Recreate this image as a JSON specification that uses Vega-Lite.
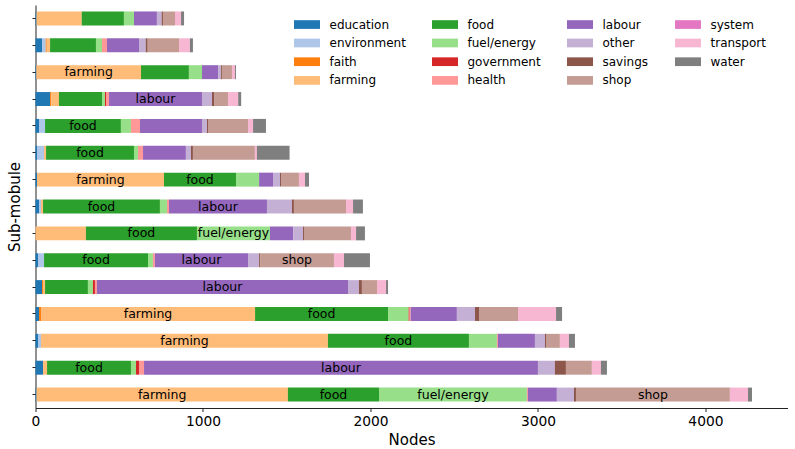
{
  "$schema": "https://vega.github.io/schema/vega-lite/v6.json",
  "autosize": {"type": "none"},
  "width": 752,
  "height": 403,
  "padding": {"left": 35.5, "top": 5, "right": 7.5, "bottom": 41},
  "background": "white",
  "config": {
    "view": {"stroke": null},
    "font": "DejaVu Sans",
    "axis": {
      "domainColor": "#222", "tickColor": "#222", "labelColor": "#000", "titleColor": "#000",
      "labelFont": "DejaVu Sans", "titleFont": "DejaVu Sans", "titleFontWeight": "normal",
      "labelFontSize": 13.8, "titleFontSize": 15, "tickSize": 3.5, "domainWidth": 1, "tickWidth": 1, "grid": false
    },
    "legend": {
      "labelFont": "DejaVu Sans", "labelFontSize": 12, "labelColor": "#000"
    }
  },
  "data": {"values": [
    {"row": "r01", "cat": "education", "value": 6},
    {"row": "r01", "cat": "farming", "value": 270},
    {"row": "r01", "cat": "food", "value": 252},
    {"row": "r01", "cat": "fuel/energy", "value": 60},
    {"row": "r01", "cat": "labour", "value": 137},
    {"row": "r01", "cat": "other", "value": 28},
    {"row": "r01", "cat": "savings", "value": 8},
    {"row": "r01", "cat": "shop", "value": 72},
    {"row": "r01", "cat": "transport", "value": 36},
    {"row": "r01", "cat": "water", "value": 18},

    {"row": "r02", "cat": "education", "value": 39},
    {"row": "r02", "cat": "environment", "value": 22},
    {"row": "r02", "cat": "faith", "value": 6},
    {"row": "r02", "cat": "farming", "value": 20},
    {"row": "r02", "cat": "food", "value": 274},
    {"row": "r02", "cat": "fuel/energy", "value": 36},
    {"row": "r02", "cat": "health", "value": 30},
    {"row": "r02", "cat": "labour", "value": 191},
    {"row": "r02", "cat": "other", "value": 40},
    {"row": "r02", "cat": "savings", "value": 12},
    {"row": "r02", "cat": "shop", "value": 187},
    {"row": "r02", "cat": "transport", "value": 65},
    {"row": "r02", "cat": "water", "value": 18},

    {"row": "r03", "cat": "education", "value": 5},
    {"row": "r03", "cat": "farming", "value": 625},
    {"row": "r03", "cat": "food", "value": 286},
    {"row": "r03", "cat": "fuel/energy", "value": 78},
    {"row": "r03", "cat": "labour", "value": 96},
    {"row": "r03", "cat": "other", "value": 17},
    {"row": "r03", "cat": "savings", "value": 6},
    {"row": "r03", "cat": "shop", "value": 60},
    {"row": "r03", "cat": "transport", "value": 18},
    {"row": "r03", "cat": "water", "value": 6},

    {"row": "r04", "cat": "education", "value": 87},
    {"row": "r04", "cat": "faith", "value": 8},
    {"row": "r04", "cat": "farming", "value": 45},
    {"row": "r04", "cat": "food", "value": 257},
    {"row": "r04", "cat": "fuel/energy", "value": 18},
    {"row": "r04", "cat": "government", "value": 6},
    {"row": "r04", "cat": "health", "value": 18},
    {"row": "r04", "cat": "labour", "value": 555},
    {"row": "r04", "cat": "other", "value": 60},
    {"row": "r04", "cat": "savings", "value": 12},
    {"row": "r04", "cat": "shop", "value": 84},
    {"row": "r04", "cat": "transport", "value": 60},
    {"row": "r04", "cat": "water", "value": 18},

    {"row": "r05", "cat": "education", "value": 21},
    {"row": "r05", "cat": "environment", "value": 36},
    {"row": "r05", "cat": "food", "value": 453},
    {"row": "r05", "cat": "fuel/energy", "value": 60},
    {"row": "r05", "cat": "health", "value": 54},
    {"row": "r05", "cat": "labour", "value": 370},
    {"row": "r05", "cat": "other", "value": 30},
    {"row": "r05", "cat": "savings", "value": 6},
    {"row": "r05", "cat": "shop", "value": 239},
    {"row": "r05", "cat": "transport", "value": 30},
    {"row": "r05", "cat": "water", "value": 77},

    {"row": "r06", "cat": "education", "value": 9},
    {"row": "r06", "cat": "environment", "value": 42},
    {"row": "r06", "cat": "farming", "value": 12},
    {"row": "r06", "cat": "food", "value": 525},
    {"row": "r06", "cat": "fuel/energy", "value": 24},
    {"row": "r06", "cat": "health", "value": 30},
    {"row": "r06", "cat": "labour", "value": 256},
    {"row": "r06", "cat": "other", "value": 30},
    {"row": "r06", "cat": "savings", "value": 12},
    {"row": "r06", "cat": "shop", "value": 370},
    {"row": "r06", "cat": "transport", "value": 12},
    {"row": "r06", "cat": "water", "value": 195},

    {"row": "r07", "cat": "education", "value": 9},
    {"row": "r07", "cat": "farming", "value": 758},
    {"row": "r07", "cat": "food", "value": 430},
    {"row": "r07", "cat": "fuel/energy", "value": 138},
    {"row": "r07", "cat": "labour", "value": 83},
    {"row": "r07", "cat": "other", "value": 42},
    {"row": "r07", "cat": "savings", "value": 6},
    {"row": "r07", "cat": "shop", "value": 107},
    {"row": "r07", "cat": "transport", "value": 36},
    {"row": "r07", "cat": "water", "value": 24},

    {"row": "r08", "cat": "education", "value": 21},
    {"row": "r08", "cat": "environment", "value": 12},
    {"row": "r08", "cat": "farming", "value": 12},
    {"row": "r08", "cat": "food", "value": 698},
    {"row": "r08", "cat": "fuel/energy", "value": 42},
    {"row": "r08", "cat": "health", "value": 12},
    {"row": "r08", "cat": "labour", "value": 585},
    {"row": "r08", "cat": "other", "value": 149},
    {"row": "r08", "cat": "savings", "value": 12},
    {"row": "r08", "cat": "shop", "value": 311},
    {"row": "r08", "cat": "transport", "value": 42},
    {"row": "r08", "cat": "water", "value": 59},

    {"row": "r09", "cat": "farming", "value": 301},
    {"row": "r09", "cat": "food", "value": 663},
    {"row": "r09", "cat": "fuel/energy", "value": 436},
    {"row": "r09", "cat": "labour", "value": 139},
    {"row": "r09", "cat": "other", "value": 58},
    {"row": "r09", "cat": "savings", "value": 6},
    {"row": "r09", "cat": "shop", "value": 281},
    {"row": "r09", "cat": "transport", "value": 30},
    {"row": "r09", "cat": "water", "value": 53},

    {"row": "r10", "cat": "education", "value": 15},
    {"row": "r10", "cat": "environment", "value": 36},
    {"row": "r10", "cat": "food", "value": 621},
    {"row": "r10", "cat": "fuel/energy", "value": 29},
    {"row": "r10", "cat": "health", "value": 12},
    {"row": "r10", "cat": "labour", "value": 556},
    {"row": "r10", "cat": "other", "value": 66},
    {"row": "r10", "cat": "savings", "value": 6},
    {"row": "r10", "cat": "shop", "value": 441},
    {"row": "r10", "cat": "transport", "value": 60},
    {"row": "r10", "cat": "water", "value": 155},

    {"row": "r11", "cat": "education", "value": 39},
    {"row": "r11", "cat": "faith", "value": 6},
    {"row": "r11", "cat": "farming", "value": 12},
    {"row": "r11", "cat": "food", "value": 256},
    {"row": "r11", "cat": "fuel/energy", "value": 30},
    {"row": "r11", "cat": "government", "value": 12},
    {"row": "r11", "cat": "health", "value": 12},
    {"row": "r11", "cat": "labour", "value": 1499},
    {"row": "r11", "cat": "other", "value": 65},
    {"row": "r11", "cat": "savings", "value": 18},
    {"row": "r11", "cat": "shop", "value": 90},
    {"row": "r11", "cat": "transport", "value": 54},
    {"row": "r11", "cat": "water", "value": 12},

    {"row": "r12", "cat": "education", "value": 21},
    {"row": "r12", "cat": "faith", "value": 12},
    {"row": "r12", "cat": "farming", "value": 1278},
    {"row": "r12", "cat": "food", "value": 794},
    {"row": "r12", "cat": "fuel/energy", "value": 123},
    {"row": "r12", "cat": "government", "value": 6},
    {"row": "r12", "cat": "health", "value": 6},
    {"row": "r12", "cat": "labour", "value": 276},
    {"row": "r12", "cat": "other", "value": 108},
    {"row": "r12", "cat": "savings", "value": 24},
    {"row": "r12", "cat": "shop", "value": 233},
    {"row": "r12", "cat": "transport", "value": 227},
    {"row": "r12", "cat": "water", "value": 36},

    {"row": "r13", "cat": "education", "value": 15},
    {"row": "r13", "cat": "environment", "value": 18},
    {"row": "r13", "cat": "farming", "value": 1713},
    {"row": "r13", "cat": "food", "value": 842},
    {"row": "r13", "cat": "fuel/energy", "value": 167},
    {"row": "r13", "cat": "health", "value": 6},
    {"row": "r13", "cat": "labour", "value": 221},
    {"row": "r13", "cat": "other", "value": 60},
    {"row": "r13", "cat": "savings", "value": 6},
    {"row": "r13", "cat": "shop", "value": 83},
    {"row": "r13", "cat": "transport", "value": 54},
    {"row": "r13", "cat": "water", "value": 36},

    {"row": "r14", "cat": "education", "value": 45},
    {"row": "r14", "cat": "farming", "value": 24},
    {"row": "r14", "cat": "food", "value": 501},
    {"row": "r14", "cat": "fuel/energy", "value": 30},
    {"row": "r14", "cat": "government", "value": 18},
    {"row": "r14", "cat": "health", "value": 30},
    {"row": "r14", "cat": "labour", "value": 2352},
    {"row": "r14", "cat": "other", "value": 101},
    {"row": "r14", "cat": "savings", "value": 66},
    {"row": "r14", "cat": "shop", "value": 155},
    {"row": "r14", "cat": "transport", "value": 54},
    {"row": "r14", "cat": "water", "value": 36},

    {"row": "r15", "cat": "education", "value": 6},
    {"row": "r15", "cat": "farming", "value": 1501},
    {"row": "r15", "cat": "food", "value": 544},
    {"row": "r15", "cat": "fuel/energy", "value": 883},
    {"row": "r15", "cat": "health", "value": 6},
    {"row": "r15", "cat": "labour", "value": 173},
    {"row": "r15", "cat": "other", "value": 102},
    {"row": "r15", "cat": "savings", "value": 12},
    {"row": "r15", "cat": "shop", "value": 919},
    {"row": "r15", "cat": "transport", "value": 108},
    {"row": "r15", "cat": "water", "value": 24}
  ]},
  "transform": [
    {"stack": "value", "groupby": ["row"], "sort": [{"field": "cat", "order": "ascending"}], "as": ["x0", "x1"]}
  ],
  "encoding": {
    "y": {
      "field": "row", "type": "nominal", "sort": "ascending",
      "scale": {"paddingInner": 0.48, "paddingOuter": 0.24},
      "axis": {"title": "Sub-mobule", "labels": false, "titlePadding": 9.5}
    }
  },
  "layer": [
    {
      "mark": {"type": "bar", "strokeWidth": 0},
      "encoding": {
        "x": {
          "field": "x0", "type": "quantitative",
          "scale": {"domain": [0, 4490], "nice": false, "zero": true},
          "axis": {"title": "Nodes", "values": [0, 1000, 2000, 3000, 4000], "format": "d", "labelPadding": 3, "titlePadding": 4, "labelFlush": false}
        },
        "x2": {"field": "x1"},
        "color": {
          "field": "cat", "type": "nominal",
          "scale": {
            "domain": ["education", "environment", "faith", "farming", "food", "fuel/energy", "government", "health", "labour", "other", "savings", "shop", "system", "transport", "water"],
            "range": ["#1f77b4", "#aec7e8", "#ff7f0e", "#ffbb78", "#2ca02c", "#98df8a", "#d62728", "#ff9896", "#9467bd", "#c5b0d5", "#8c564b", "#c49c94", "#e377c2", "#f7b6d2", "#7f7f7f"]
          },
          "legend": {
            "title": null, "orient": "none", "legendX": 258.5, "legendY": 12.8, "columns": 4,
            "symbolType": "M-2,-0.67H2V0.67H-2Z", "symbolSize": 169, "symbolStrokeWidth": 0,
            "symbolOffset": 6.5, "symbolOpacity": 1, "labelOffset": 16, "columnPadding": 26, "rowPadding": 5.7
          }
        }
      }
    },
    {
      "transform": [
        {"filter": "datum.value >= 400"},
        {"calculate": "(datum.x0 + datum.x1) / 2", "as": "mid"}
      ],
      "mark": {"type": "text", "align": "center", "baseline": "middle", "fontSize": 12.5, "font": "DejaVu Sans", "color": "#000"},
      "encoding": {
        "x": {"field": "mid", "type": "quantitative"},
        "text": {"field": "cat", "type": "nominal"}
      }
    }
  ]
}
